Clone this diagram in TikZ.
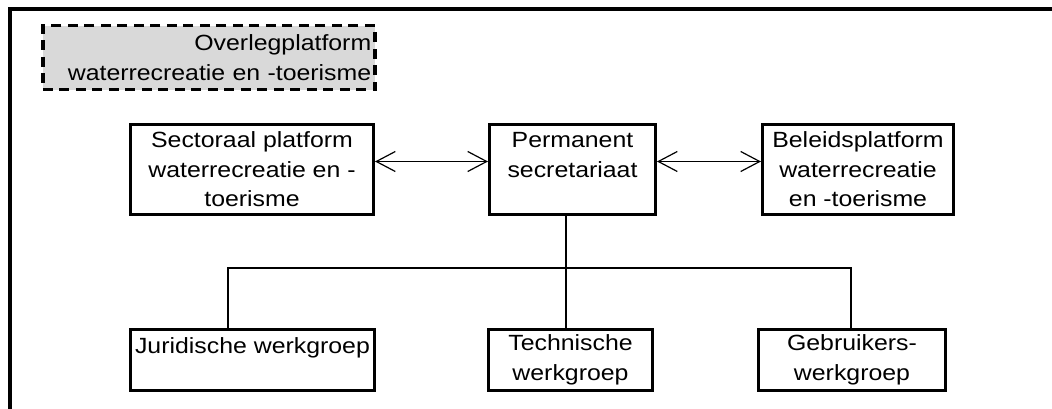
\documentclass[tikz,border=0pt]{standalone}
\usepackage{fontspec}
\setmainfont{Liberation Sans}[FakeStretch=1.13]
\usetikzlibrary{arrows.meta,positioning}
\definecolor{platformgray}{RGB}{217,217,217}
\tikzset{
    %Define standard arrow tip
    >={Straight Barb[length=19pt,width=20pt]},
    %Define style for boxes
    unit/.style={
           rectangle,
           draw=black, line width=3pt,
           inner sep=3pt,
           font=\fontsize{22}{29.5}\selectfont,
           align=center,
           },
    platform/.style={
           rectangle,
           draw=black, line width=3.5pt,
           dash pattern=on 10pt off 6.5pt,
           fill=platformgray,
           inner sep=0pt, inner xsep=2pt,
           font=\fontsize{22}{29.5}\selectfont,
           text width=325pt,
           align=right,
           },
    % Define connector style
    link/.style={
           line width=1.2pt,
           },
    frame/.style={line width=3.8pt}
}
\begin{document}
\begin{tikzpicture}[x=1pt,y=-1pt]
\useasboundingbox (0,0) rectangle (1052,409);
\draw[frame] (10,409) -- (10,9.2) -- (1052,9.2);
\node[platform, minimum width=332pt, minimum height=64pt, anchor=north west] (overleg) at (41,24)
    {Overlegplatform\\waterrecreatie en -toerisme};
\node[unit, minimum width=243pt, minimum height=90pt, anchor=north west] (sect) at (129,123)
    {Sectoraal platform\\waterrecreatie en -\\toerisme};
\node[unit, minimum width=166pt, minimum height=90pt, right=113pt of sect] (perm)
    {Permanent\\secretariaat\\\mbox{}};
\node[unit, minimum width=191pt, minimum height=90pt, right=104pt of perm] (bel)
    {Beleidsplatform\\waterrecreatie\\en -toerisme};
\node[unit, minimum width=244pt, minimum height=61pt, below=112pt of sect.south west, anchor=north west] (jur)
    {Juridische werkgroep\\\mbox{}};
\node[unit, minimum width=164pt, minimum height=61pt, right=111pt of jur] (tech)
    {Technische\\werkgroep};
\node[unit, minimum width=187pt, minimum height=61pt, right=103pt of tech] (gebr)
    {Gebruikers-\\werkgroep};
\coordinate (busL) at (228,268);
\coordinate (busR) at (851,268);
\draw[link,<->] ([yshift=8pt]sect.east) -- ([yshift=8pt]perm.west);
\draw[link,<->] ([yshift=8pt]perm.east) -- ([yshift=8pt]bel.west);
\draw[link] ([xshift=-6.5pt]perm.south) -- ([xshift=-6.5pt]perm.south |- tech.north);
\draw[link] (busL |- jur.north) -- (busL) -- (busR) -- (busR |- gebr.north);
\end{tikzpicture}
\end{document}
